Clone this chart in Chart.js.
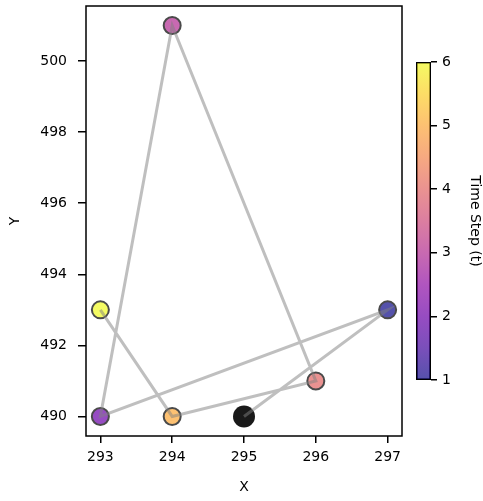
<!DOCTYPE html>
<html>
<head>
<meta charset="utf-8">
<script src="https://cdn.jsdelivr.net/npm/chart.js@4/dist/chart.umd.min.js"></script>
<style>
  html, body { margin: 0; padding: 0; background: #fff; }
  #wrap { position: relative; width: 483px; height: 501px; }
  #wrap canvas { position: absolute; left: 0; top: 0; }
</style>
</head>
<body>
<div id="wrap">
  <canvas id="main" width="483" height="501"></canvas>
  <canvas id="cbar" width="483" height="501"></canvas>
</div>
<script>
// path of the walk, one entry per time step t = 0..6
var steps = [0, 1, 2, 3, 4, 5, 6];
var xs = [295, 297, 293, 294, 296, 294, 293];
var ys = [490, 493, 490, 501, 491, 490, 493];
var xTicks = [293, 294, 295, 296, 297];
var yTicks = [490, 492, 494, 496, 498, 500];
var cbTicks = [1, 2, 3, 4, 5, 6];

// plasma colormap stops
var plasma = ["#0d0887", "#41049d", "#6a00a8", "#8f0da4", "#b12a90", "#cc4778",
              "#e16462", "#f2844b", "#fca636", "#fcce25", "#f0f921"];
var alpha = 0.7;

function plasmaAt(f) {
  f = Math.max(0, Math.min(1, f)) * 10;
  var i = Math.min(9, Math.floor(f)), k = f - i;
  var a = plasma[i], b = plasma[i + 1];
  var c = [1, 3, 5].map(function (p) {
    var u = parseInt(a.substr(p, 2), 16), v = parseInt(b.substr(p, 2), 16);
    return Math.round(u + (v - u) * k);
  });
  return "rgba(" + c[0] + "," + c[1] + "," + c[2] + "," + alpha + ")";
}

var pts = xs.map(function (x, i) { return {x: x, y: ys[i]}; });
var fills = steps.map(function (t) { return t == 0 ? "rgba(0,0,0,0.9)" : plasmaAt((t - 1) / 5); });
var edges = steps.map(function (t) { return t == 0 ? "rgba(0,0,0,0)" : "#4a4a4a"; });
var radii = steps.map(function (t) { return t == 0 ? 11 : 8.5; });

Chart.defaults.font.family = "'DejaVu Sans'";
Chart.defaults.font.size = 14;
Chart.defaults.color = "#000";
Chart.defaults.animation = false;

var frame = {
  id: "frame",
  afterDraw: function (chart) {
    var a = chart.chartArea, ctx = chart.ctx;
    ctx.save();
    ctx.strokeStyle = "#000";
    ctx.lineWidth = 1.5;
    ctx.strokeRect(a.left, a.top, a.right - a.left, a.bottom - a.top);
    ctx.restore();
  }
};

function noPad(s) {
  s.paddingTop = 0; s.paddingBottom = 0; s.paddingLeft = 0; s.paddingRight = 0;
}

new Chart("main", {
  type: "scatter",
  data: {
    datasets: [{
      data: pts,
      showLine: true,
      borderColor: "rgba(128,128,128,0.5)",
      borderWidth: 3,
      pointRadius: 0,
      order: 0
    }, {
      data: pts,
      backgroundColor: fills,
      borderColor: edges,
      borderWidth: 2,
      pointRadius: radii,
      order: 1
    }]
  },
  plugins: [frame],
  options: {
    responsive: false,
    layout: {autoPadding: false, padding: {top: 6, right: 81, left: 0, bottom: 0}},
    plugins: {legend: {display: false}, tooltip: {enabled: false}},
    scales: {
      x: {
        min: 292.8, max: 297.2,
        afterBuildTicks: function (s) { s.ticks = xTicks.map(function (v) { return {value: v}; }); },
        afterFit: function (s) { s.height = 65; noPad(s); },
        grid: {display: true, drawOnChartArea: false, tickLength: 7, color: "#000", lineWidth: 1.5},
        border: {display: false},
        ticks: {padding: 6, maxRotation: 0},
        title: {display: true, text: "X", padding: {top: 0, bottom: 5}}
      },
      y: {
        min: 489.45, max: 501.55,
        afterBuildTicks: function (s) { s.ticks = yTicks.map(function (v) { return {value: v}; }); },
        afterFit: function (s) { s.width = 86; noPad(s); },
        grid: {display: true, drawOnChartArea: false, tickLength: 8, color: "#000", lineWidth: 1.5},
        border: {display: false},
        ticks: {padding: 11},
        title: {display: true, text: "Y", padding: {top: 7, bottom: 0}}
      }
    }
  }
});

// colorbar: one floating bar spanning the t range, painted with the colormap
new Chart("cbar", {
  type: "bar",
  data: {
    labels: [""],
    datasets: [{
      data: [[cbTicks[0], cbTicks[cbTicks.length - 1]]],
      backgroundColor: function (c) {
        var a = c.chart.chartArea;
        if (!a) return "#ccc";
        var g = c.chart.ctx.createLinearGradient(0, a.bottom, 0, a.top);
        for (var i = 0; i <= 20; i++) g.addColorStop(i / 20, plasmaAt(i / 20));
        return g;
      },
      borderColor: "#000",
      borderWidth: 1.5,
      borderSkipped: false,
      barPercentage: 1,
      categoryPercentage: 1
    }]
  },
  options: {
    responsive: false,
    layout: {autoPadding: false, padding: {top: 62, left: 416, bottom: 121, right: 0}},
    plugins: {legend: {display: false}, tooltip: {enabled: false}},
    scales: {
      x: {display: false},
      y: {
        position: "right",
        min: 1, max: 6,
        afterBuildTicks: function (s) { s.ticks = cbTicks.map(function (v) { return {value: v}; }); },
        afterFit: function (s) { s.width = 52; noPad(s); },
        grid: {display: true, drawOnChartArea: false, tickLength: 6, color: "#000", lineWidth: 1.5},
        border: {display: false},
        ticks: {padding: 5},
        title: {display: true, text: "Time Step (t)", padding: {top: 0, bottom: 4}}
      }
    }
  }
});
</script>
</body>
</html>
